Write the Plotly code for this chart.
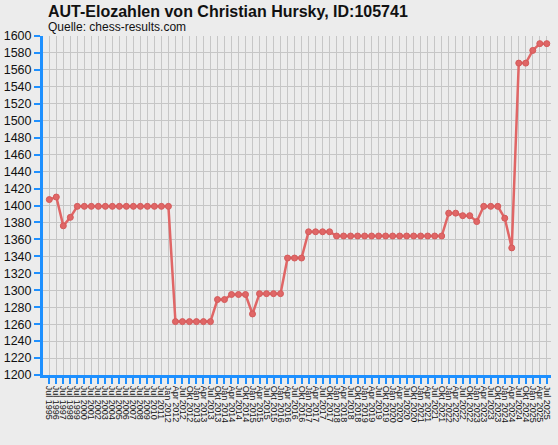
import plotly.graph_objects as go

# Elo history, annual first, then quarterly
years_annual = list(range(1995, 2012))
months_q = ['Jan', 'Apr', 'Jul', 'Okt']

labels = ['Jul ' + str(y) for y in years_annual]
for y in range(2012, 2026):
    for m in months_q:
        labels.append(m + ' ' + str(y))
labels = labels[:72]

elo = [1407, 1410, 1376, 1386, 1399, 1399, 1399, 1399, 1399, 1399,
       1399, 1399, 1399, 1399, 1399, 1399, 1399, 1399,
       1263, 1263, 1263, 1263, 1263, 1263,
       1289, 1289, 1295, 1295, 1295, 1272,
       1296, 1296, 1296, 1296,
       1338, 1338, 1338,
       1369, 1369, 1369, 1369,
       1364, 1364, 1364, 1364, 1364, 1364, 1364, 1364,
       1364, 1364, 1364, 1364, 1364, 1364, 1364, 1364,
       1391, 1391, 1388, 1388, 1381, 1399, 1399, 1399, 1385, 1350,
       1568, 1568, 1583, 1591, 1591]

y_ticks = list(range(1200, 1601, 20))

bg = '#ececec'
blue = '#1e90ff'
red = '#e06666'

fig = go.Figure()

fig.add_trace(go.Scatter(
    x=labels,
    y=elo,
    mode='lines+markers',
    line=dict(color=red, width=2.5),
    marker=dict(size=6, color=red, line=dict(color='#d45a5a', width=1)),
    hoverinfo='x+y'
))

fig.update_layout(
    width=558,
    height=445,
    paper_bgcolor=bg,
    plot_bgcolor=bg,
    showlegend=False,
    margin=dict(l=43, r=7, t=36, b=70, autoexpand=False),
    font=dict(family='Liberation Sans, Arial, sans-serif', color='#111111'),
    xaxis=dict(
        type='category',
        range=[-0.9, 71.6],
        tickmode='linear',
        tick0=0,
        dtick=1,
        tickangle=90,
        tickfont=dict(size=9, color='#111111'),
        automargin=False,
        showgrid=True,
        gridcolor='#c6c6c6',
        gridwidth=1,
        showline=True,
        linecolor=blue,
        linewidth=3,
        ticks='outside',
        ticklen=6,
        tickwidth=2,
        tickcolor=blue,
        zeroline=False
    ),
    yaxis=dict(
        range=[1200, 1600],
        tickvals=y_ticks,
        tickfont=dict(size=12.5, color='#111111'),
        automargin=False,
        showgrid=True,
        gridcolor='#c6c6c6',
        gridwidth=1,
        showline=True,
        linecolor=blue,
        linewidth=3,
        ticks='outside',
        ticklen=6,
        tickwidth=2,
        tickcolor=blue,
        zeroline=False
    ),
    annotations=[
        dict(text='<b>AUT-Elozahlen von Christian Hursky, ID:105741</b>',
             xref='paper', yref='paper', x=0.006, y=1.071,
             xanchor='left', yanchor='middle', showarrow=False,
             font=dict(size=16, color='#111111')),
        dict(text='Quelle: chess-results.com',
             xref='paper', yref='paper', x=0.006, y=1.027,
             xanchor='left', yanchor='middle', showarrow=False,
             font=dict(size=12, color='#111111'))
    ]
)

# drop the default page margin so the figure fills the window
fig.write_html("out.html", config={'displayModeBar': False},
               post_script="document.body.style.margin = '0';")
